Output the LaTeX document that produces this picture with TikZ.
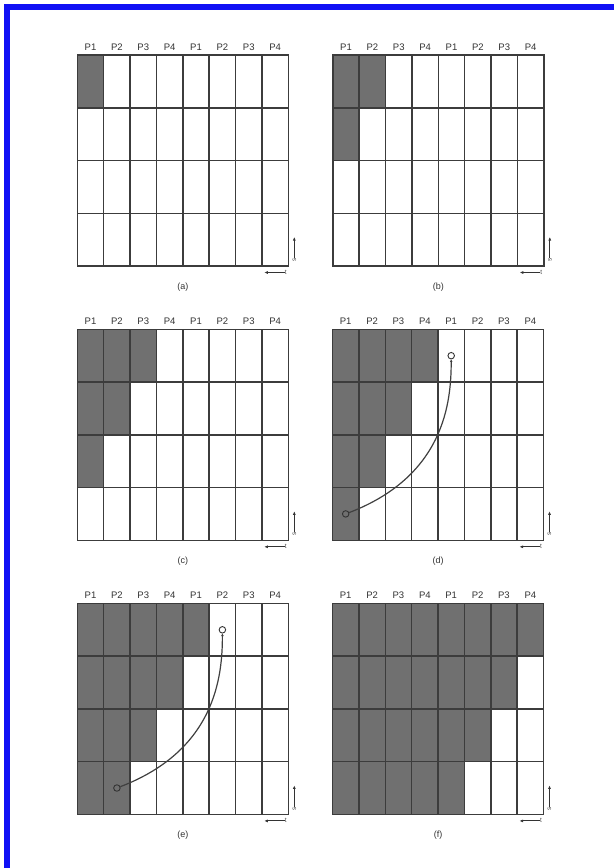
\documentclass[tikz,border=0pt]{standalone}
\usepackage{fontspec}
\setmainfont{Liberation Sans}
\usetikzlibrary{arrows.meta}
\definecolor{frameblue}{RGB}{16,16,245}
\definecolor{cellgray}{RGB}{112,112,112}
\definecolor{gridline}{RGB}{60,60,60}
\tikzset{
    cell/.style = {fill=cellgray},
    grid line/.style = {draw=gridline, line width=1.5pt},
    proc/.style = {font=\fontsize{9.5}{10}\selectfont, text=black!80, inner sep=0pt},
    caption/.style = {font=\fontsize{9}{10}\selectfont, text=black!80, inner sep=0pt},
    axis tag/.style = {font=\fontsize{6.5}{7}\selectfont, text=black!70, inner sep=0pt},
    axis arrow/.style = {draw=black!80, line width=0.9pt, -{Latex[length=3.5pt,width=3pt]}},
    end ring/.style = {circle, draw=black!80, line width=0.9pt, minimum size=6.5pt, inner sep=0pt},
    path curve/.style = {draw=black!75, line width=1.2pt, -{Latex[length=2.5pt,width=2.8pt]}},
}

\begin{document}
\begin{tikzpicture}[x=1pt, y=-1pt]
    \useasboundingbox (0,0) rectangle (614,868);
    \fill[white] (0,0) rectangle (614,868);
    \draw[frameblue, line width=6pt] (7,868) -- (7,7) -- (614,7);

    % one panel per step: origin, caption, shaded cells per row
    \foreach \px/\py/\lab/\na/\nb/\nc/\nd in {
        77.3/55/a/1/0/0/0, 332.8/55/b/2/1/0/0,
        77.3/329.3/c/3/2/1/0, 332.5/329.3/d/4/3/2/1,
        77.3/603.4/e/5/4/3/2, 332.5/603.4/f/8/7/6/5} {
        \begin{scope}[shift={(\px,\py)}]
            \foreach \r/\n in {0/\na, 1/\nb, 2/\nc, 3/\nd}
                \fill[cell] (0,\r*52.75) rectangle (\n*26.375,\r*52.75+52.75);
            \foreach \c in {1,...,7}
                \draw[grid line] (\c*26.375,0) -- (\c*26.375,211);
            \foreach \r in {1,2,3}
                \draw[grid line] (0,\r*52.75) -- (211,\r*52.75);
            \draw[grid line] (0,0) rectangle (211,211);

            \foreach \c in {0,...,7} {
                \pgfmathtruncatemacro{\p}{mod(\c,4)+1}
                \node[proc] (p-\lab-\c) at (\c*26.375+13.2,-8) {P\p};
            }
            \node[caption] (cap-\lab) at (105.5,232) {(\lab)};

            \node[axis tag, rotate=90] (s-\lab) at (217,205) {s};
            \coordinate (s-tip-\lab) at (217,182);
            \draw[axis arrow] (s-\lab) -- (s-tip-\lab);
            \node[axis tag] (t-\lab) at (208.5,217.5) {t};
            \coordinate (t-tip-\lab) at (187,217.5);
            \draw[axis arrow] (t-\lab) -- (t-tip-\lab);
        \end{scope}
    }

    \node[end ring] (d-start) at (345.7,513.9) {};
    \node[end ring] (d-end) at (451.2,355.7) {};
    \draw[path curve] (d-start) .. controls +(99,-38) and +(0,46) .. (d-end);

    \node[end ring] (e-start) at (116.9,788) {};
    \node[end ring] (e-end) at (222.4,629.8) {};
    \draw[path curve] (e-start) .. controls +(99,-38) and +(0,46) .. (e-end);
\end{tikzpicture}
\end{document}
